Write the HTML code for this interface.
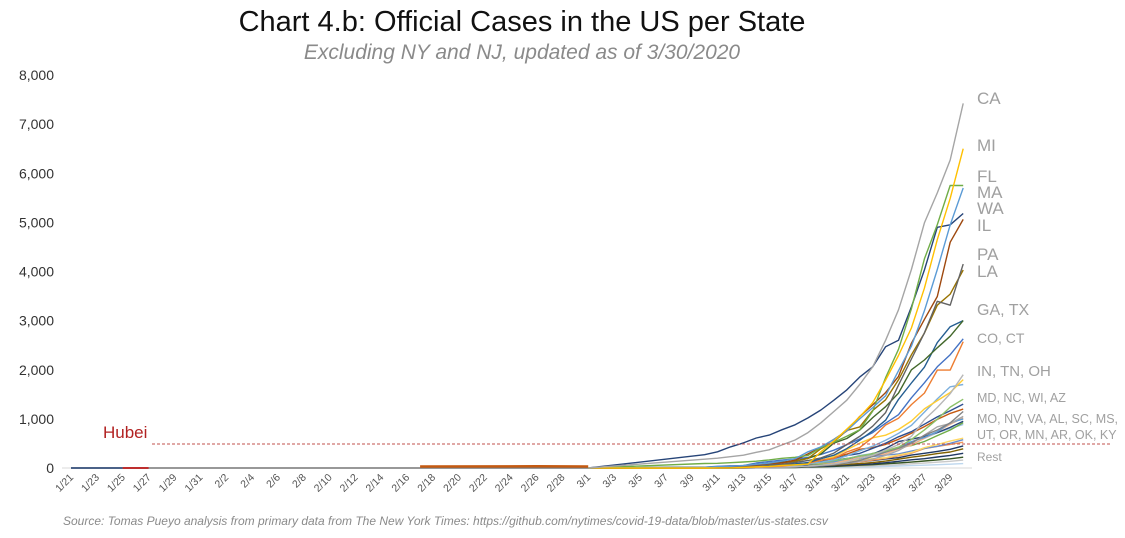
<!DOCTYPE html>
<html><head><meta charset="utf-8"><style>
body{margin:0;background:#fff;}
svg{display:block;font-family:"Liberation Sans",sans-serif;}
</style></head><body>
<svg id="chart" width="1125" height="538">
<text x="522" y="31" text-anchor="middle" font-size="29" fill="#111">Chart 4.b: Official Cases in the US per State</text>
<text x="522" y="59" text-anchor="middle" font-size="21" font-style="italic" fill="#8a8a8a">Excluding NY and NJ, updated as of 3/30/2020</text>
<g id="yaxis"></g>
<g id="xaxis"></g>
<line x1="62" y1="468" x2="972" y2="468" stroke="#d9d9d9" stroke-width="1"/>
<g id="lines"></g>
<line x1="152" y1="444" x2="1112" y2="444" stroke="#c0504d" stroke-width="1" stroke-dasharray="3,2"/>
<text x="103" y="438" font-size="17" fill="#b22222">Hubei</text>
<g id="labels" fill="#a0a0a0">
<text x="977" y="104" font-size="17">CA</text>
<text x="977" y="151" font-size="17">MI</text>
<text x="977" y="182" font-size="17">FL</text>
<text x="977" y="198" font-size="17">MA</text>
<text x="977" y="214" font-size="17">WA</text>
<text x="977" y="231" font-size="17">IL</text>
<text x="977" y="260" font-size="17">PA</text>
<text x="977" y="277" font-size="17">LA</text>
<text x="977" y="315" font-size="16">GA, TX</text>
<text x="977" y="343" font-size="14">CO, CT</text>
<text x="977" y="376" font-size="15">IN, TN, OH</text>
<text x="977" y="402" font-size="12.5">MD, NC, WI, AZ</text>
<text x="977" y="423" font-size="12.5">MO, NV, VA, AL, SC, MS,</text>
<text x="977" y="439" font-size="12.5">UT, OR, MN, AR, OK, KY</text>
<text x="977" y="461" font-size="12">Rest</text>
</g>
<text x="63" y="525" font-size="12" font-style="italic" fill="#8a8a8a">Source: Tomas Pueyo analysis from primary data from The New York Times: https://github.com/nytimes/covid-19-data/blob/master/us-states.csv</text>
</svg>
<script>
const yTicks = [0,1000,2000,3000,4000,5000,6000,7000,8000];
const dateLabels = ["1/21","1/23","1/25","1/27","1/29","1/31","2/2","2/4","2/6","2/8","2/10","2/12","2/14","2/16","2/18","2/20","2/22","2/24","2/26","2/28","3/1","3/3","3/5","3/7","3/9","3/11","3/13","3/15","3/17","3/19","3/21","3/23","3/25","3/27","3/29"];
const seriesStart = 49; // day index of 3/10 (1/21 = 0)
const seriesNames = ["CA","MI","FL","MA","WA","IL","PA","LA","GA","TX","CO","CT","IN","TN","OH","MD","NC","WI","AZ","MO","NV","VA","AL","SC","UT","OR","MN","KY","R1","R2","R3","R4","R5","R6"];
const seriesColors = ["#a5a5a5","#ffc000","#5b9bd5","#70ad47","#264478","#9e480e","#636363","#997300","#43682b","#255e91","#4472c4","#ed7d31","#b7b7b7","#ffcd33","#7cafdd","#8cc168","#2e4f8f","#c55a11","#848484","#a8a8a8","#5b9bd5","#f4b183","#264478","#70ad47","#9dc3e6","#ffd966","#698ed0","#f1975a","#1f3864","#7f6000","#203864","#375623","#c9c9c9","#bdd7ee"];
const seriesValues = [
 [180,200,230,260,320,370,470,570,720,920,1150,1380,1700,2060,2600,3220,4040,4990,5600,6270,7421],
 [0,2,2,12,25,33,53,65,80,330,550,790,1040,1330,1790,2290,2850,3660,4650,5490,6500],
 [15,28,35,50,76,100,140,190,330,430,580,760,1000,1230,1470,1980,2480,3200,4040,4950,5700],
 [92,95,108,123,138,164,197,218,256,413,525,646,777,1159,1838,2417,3240,4257,4955,5752,5750],
 [270,330,430,510,610,670,780,880,1020,1180,1380,1590,1850,2060,2470,2600,3280,4030,4900,4950,5180],
 [12,25,32,46,64,93,105,160,288,422,585,753,1049,1285,1535,1865,2538,3024,3491,4596,5060],
 [12,16,22,41,47,66,77,112,152,206,303,479,644,851,1127,1687,2218,2751,3394,3315,4150],
 [1,6,14,19,36,77,103,136,196,392,537,763,837,1172,1388,1795,2305,2746,3315,3540,4030],
 [17,23,31,42,66,99,121,146,197,287,507,600,772,1026,1247,1525,2000,2198,2446,2683,3000],
 [8,12,19,30,43,57,72,85,110,190,260,394,566,757,974,1396,1731,2052,2552,2877,3000],
 [17,34,45,49,101,131,160,183,216,277,363,475,591,720,912,1086,1430,1734,2061,2307,2630],
 [2,3,5,11,20,26,41,68,96,159,194,327,415,618,875,1012,1291,1524,1993,1993,2570],
 [1,4,6,12,13,20,24,30,39,56,79,126,201,259,365,477,645,981,1232,1513,1900],
 [1,7,18,26,32,39,52,74,98,154,228,371,505,615,667,784,957,1203,1373,1537,1800],
 [3,4,5,13,26,37,50,67,88,119,169,247,351,443,564,704,867,1137,1406,1653,1700],
 [9,12,12,18,26,32,37,57,86,107,150,191,244,290,349,423,580,775,992,1239,1400],
 [2,7,14,19,24,33,38,64,92,136,184,255,297,398,504,636,738,891,1040,1167,1300],
 [3,8,8,19,27,32,47,72,105,159,209,282,381,416,481,585,707,842,989,1112,1200],
 [6,9,9,12,12,13,18,20,28,45,65,104,153,235,326,401,508,665,773,919,1150],
 [1,1,1,2,5,6,10,18,32,47,73,94,132,183,257,356,502,670,838,903,1050],
 [4,5,7,14,17,22,45,55,84,109,126,190,245,278,321,420,535,621,738,920,1000],
 [8,9,17,30,41,45,51,67,77,99,114,153,219,254,290,391,466,605,739,890,1020],
 [0,0,1,6,12,23,36,51,68,106,157,196,215,283,396,538,587,639,720,827,950],
 [7,10,13,13,19,28,33,47,60,81,125,171,196,298,342,424,456,539,660,774,925],
 [2,3,5,9,28,39,51,51,63,78,136,181,257,298,346,402,480,602,719,806,887],
 [15,21,24,30,36,39,47,66,75,88,114,137,161,191,209,266,316,414,479,548,606],
 [3,5,9,14,21,35,54,60,77,89,115,138,169,235,262,287,346,398,441,503,576],
 [8,10,14,14,20,21,26,35,47,63,88,99,124,163,198,248,302,394,439,480,526],
 [6,9,11,15,16,25,38,49,60,78,93,105,129,152,185,210,263,300,338,380,450],
 [1,2,3,3,5,12,17,26,35,48,59,75,90,110,141,180,219,252,294,325,390],
 [0,1,2,2,4,10,13,20,24,36,45,60,71,86,108,137,166,190,224,256,300],
 [0,0,1,2,4,6,8,11,18,24,33,45,57,68,85,101,120,142,165,188,220],
 [0,0,0,1,2,3,5,8,11,15,20,28,34,44,56,68,85,100,118,137,160],
 [0,0,0,0,1,2,3,4,6,9,12,16,21,27,33,40,48,58,68,78,90]
];
const navyDays = [0,4];
const navyValues = [1,1];
const redDays = [4,6];
const redValues = [1,1];
const orangeDays = [27,36,40];
const orangeValues = [30,35,30];
const NS="http://www.w3.org/2000/svg";
const X0=71, DX=12.93, Y0=468, YS=393/8000;
function xs(d){return X0+d*DX;}
function ys(v){return Y0-v*YS;}
const ya=document.getElementById('yaxis');
yTicks.forEach(t=>{
  const e=document.createElementNS(NS,'text');
  e.setAttribute('x',54);e.setAttribute('y',ys(t)+5);
  e.setAttribute('text-anchor','end');e.setAttribute('font-size','14');e.setAttribute('fill','#333');
  e.textContent=t.toLocaleString('en-US');
  
  
  ya.appendChild(e);
});
const xa=document.getElementById('xaxis');
dateLabels.forEach((l,i)=>{
  const x=xs(i*2);
  const e=document.createElementNS(NS,'text');
  e.setAttribute('x',x+3);e.setAttribute('y',478);
  e.setAttribute('text-anchor','end');e.setAttribute('font-size','10.5');e.setAttribute('fill','#555');
  e.setAttribute('transform','rotate(-45 '+(x+3)+' 478)');
  e.textContent=l;
  
  
  xa.appendChild(e);
});
const lg=document.getElementById('lines');
function addLine(pts,color,w,name){
  const p=document.createElementNS(NS,'polyline');
  p.setAttribute('points',pts.map(q=>q[0].toFixed(1)+','+q[1].toFixed(1)).join(' '));
  p.setAttribute('fill','none');p.setAttribute('stroke',color);p.setAttribute('stroke-width',w);
  p.setAttribute('stroke-linejoin','round');
  
  
  lg.appendChild(p);
}
addLine([[xs(0),ys(0)],[xs(seriesStart),ys(0)]],'#777',1.5,'baseline-early-series');
addLine(navyDays.map((d,i)=>[xs(d),ys(navyValues[i])]),'#264478',1.5,'early-segment-navy');
addLine(redDays.map((d,i)=>[xs(d),ys(redValues[i])]),'#c00000',1.5,'early-segment-red');
addLine(orangeDays.map((d,i)=>[xs(d),ys(orangeValues[i])]),'#c55a11',2.5,'early-segment-orange');
for(let s=seriesValues.length-1;s>=0;s--){
  const pts=[[xs(seriesStart-9),ys(0)]];
  seriesValues[s].forEach((v,i)=>pts.push([xs(seriesStart+i),ys(v)]));
  addLine(pts,seriesColors[s],1.4,'line-'+seriesNames[s].toLowerCase());
}
</script>
</body></html>
